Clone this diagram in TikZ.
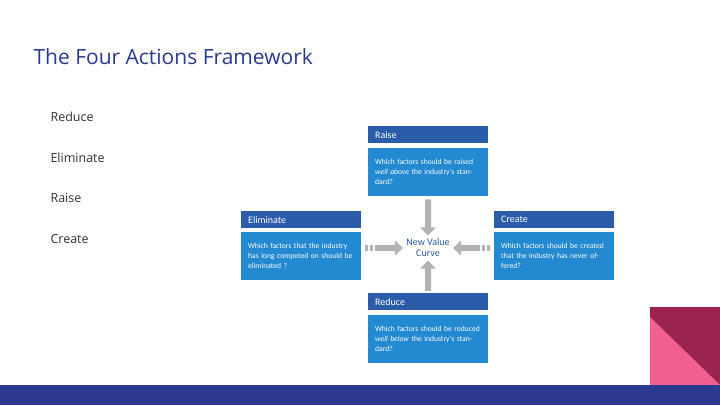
\documentclass[tikz,border=0pt]{standalone}
\usepackage{fontspec}
\setmainfont{Open Sans}
\newfontfamily\boxfont{Carlito}
\usetikzlibrary{arrows.meta,positioning}
\definecolor{slideblue}{HTML}{2B3990}
\definecolor{headblue}{HTML}{2A5CAA}
\definecolor{bodyblue}{HTML}{2389D0}
\definecolor{wine}{HTML}{9B2350}
\definecolor{rose}{HTML}{EF5F90}
\begin{document}
\begin{tikzpicture}[x=1pt,y=-1pt,
  head/.style={fill=headblue, text=white, minimum width=120pt, minimum height=17pt,
    inner xsep=7pt, text width=106pt, font=\boxfont\fontsize{10}{12}\selectfont, anchor=north west},
  body/.style={fill=bodyblue, text=white, minimum width=120pt, minimum height=48pt,
    inner xsep=7pt, text width=106pt, font=\boxfont\fontsize{7.6}{10}\selectfont, anchor=north west},
  push/.style={draw=gray!60, line width=6pt, -{Triangle[width=15pt,length=8pt]}},
  bullet/.style={font=\fontsize{12.5}{15}\selectfont, text=black!80, anchor=west}]
\useasboundingbox (0,0) rectangle (720,405);

% titles
\node[anchor=west, text=slideblue, font=\fontsize{21}{25}\selectfont] (title) at (30,57) {The Four Actions Framework};
\node[bullet] (lreduce) at (47,117) {Reduce};
\node[bullet] (leliminate) at (47,158) {Eliminate};
\node[bullet] (lraise) at (47,198) {Raise};
\node[bullet] (lcreate) at (47,239) {Create};

% raise
\node[head] (raise) at (368,126) {Raise};
\node[body] (raisetxt) at (368,148) {Which factors should be raised \emph{well above} the industry's standard?};
% eliminate
\node[head] (elim) at (241,211) {Eliminate};
\node[body] (elimtxt) at (241,232) {Which factors that the industry has long competed on should be eliminated ?};
% create
\node[head] (create) at (494,211) {Create};
\node[body] (createtxt) at (494,232) {Which factors should be created that the industry has never offered?};
% reduce
\node[head] (reduce) at (368,293) {Reduce};
\node[body] (reducetxt) at (368,315) {Which factors should be reduced \emph{well below} the industry's standard?};

\node[text=headblue, align=center, font=\boxfont\fontsize{10}{11}\selectfont] (curve) at (428,248) {New Value\\Curve};

\draw[push] (raisetxt.south) ++(0,3) -- (curve.north);
\draw[push] (reduce.north) ++(0,-2) -- (curve.south);
\draw[push, dash pattern=on 3pt off 2pt on 3pt off 2pt on 20pt] (elimtxt.east |- curve) ++(4,0) -- (curve.west);
\draw[push, dash pattern=on 3pt off 2pt on 3pt off 2pt on 20pt] (createtxt.west |- curve) ++(-4,0) -- (curve.east);

% decoration
\fill[wine] (650,307) rectangle (720,385);
\fill[rose] (650,317) -- (720,385) -- (650,385) -- cycle;
\fill[slideblue] (0,385) rectangle (720,405);
\end{tikzpicture}
\end{document}
